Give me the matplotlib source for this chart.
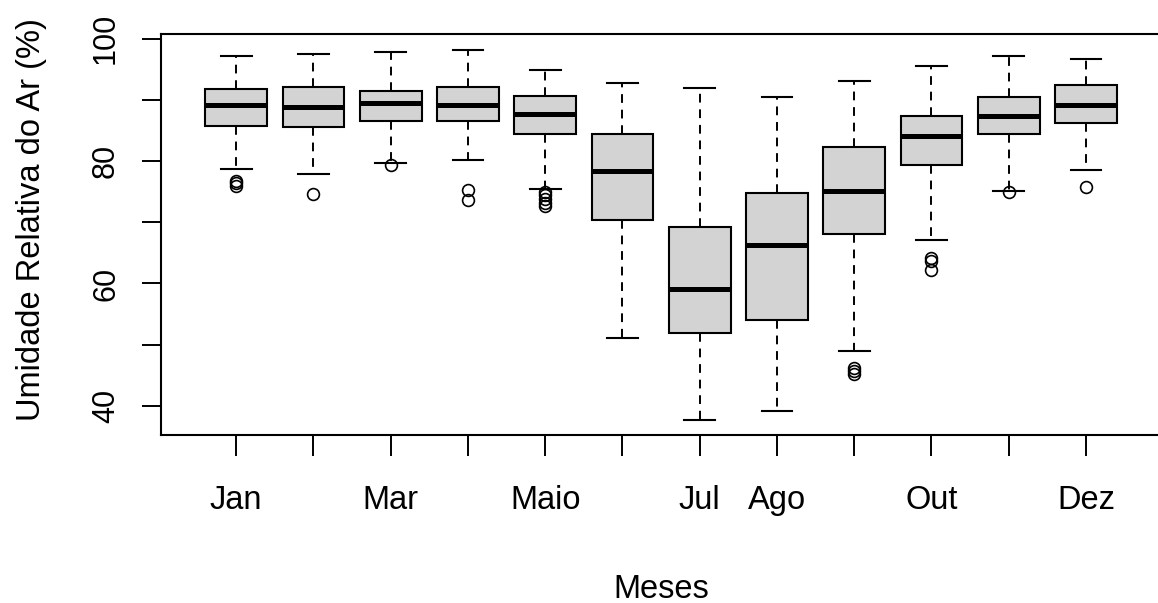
import matplotlib
matplotlib.use("Agg")
import matplotlib.pyplot as plt
from matplotlib import font_manager

months = ["Jan", "Fev", "Mar", "Abr", "Maio", "Jun", "Jul", "Ago", "Set", "Out", "Nov", "Dez"]
tick_labels = ["Jan", "", "Mar", "", "Maio", "", "Jul", "Ago", "", "Out", "", "Dez"]
whis_lo = [78.7, 77.9, 79.7, 80.1, 75.4, 51.1, 37.7, 39.2, 49.0, 67.1, 75.1, 78.6]
q1 = [85.8, 85.5, 86.5, 86.5, 84.4, 70.3, 51.9, 54.0, 68.1, 79.4, 84.4, 86.2]
median = [89.2, 88.8, 89.5, 89.2, 87.7, 78.3, 59.1, 66.3, 75.1, 84.1, 87.3, 89.1]
q3 = [91.7, 92.1, 91.4, 92.1, 90.6, 84.4, 69.3, 74.7, 82.3, 87.4, 90.5, 92.4]
whis_hi = [97.1, 97.5, 97.8, 98.2, 94.9, 92.8, 92.0, 90.5, 93.1, 95.6, 97.1, 96.7]
outliers = [
    [76.8, 76.4, 75.9],
    [74.6],
    [79.3],
    [75.2, 73.7],
    [75.0, 74.4, 73.8, 73.2, 72.6],
    [],
    [],
    [],
    [46.2, 45.7, 45.2],
    [64.2, 63.7, 62.2],
    [74.9],
    [75.7],
]
y_ticks = [40, 50, 60, 70, 80, 90, 100]
y_tick_labels = ["40", "", "60", "", "80", "", "100"]

avail = {f.name for f in font_manager.fontManager.ttflist}
base_font = "Liberation Sans" if "Liberation Sans" in avail else "DejaVu Sans"

plt.rcParams["font.family"] = [base_font, "DejaVu Sans"]

W, H = 1158, 603
fig = plt.figure(figsize=(W / 100, H / 100), dpi=100)
left_px, right_px, top_px, bottom_px = 160.5, 1161.7, 34.3, 435.0
ax = fig.add_axes([left_px / W, 1 - bottom_px / H, (right_px - left_px) / W, (bottom_px - top_px) / H])

stats = []
for i in range(len(months)):
    stats.append(dict(label=months[i], whislo=whis_lo[i], q1=q1[i], med=median[i],
                      q3=q3[i], whishi=whis_hi[i], fliers=outliers[i]))

positions = list(range(1, len(months) + 1))
ax.bxp(stats, positions=positions, widths=0.8, capwidths=0.4, patch_artist=True,
       showfliers=True,
       boxprops=dict(facecolor="#D3D3D3", edgecolor="black", linewidth=1.5),
       medianprops=dict(color="black", linewidth=3.6, solid_capstyle="butt"),
       whiskerprops=dict(color="black", linewidth=1.4, linestyle=(0, (4.5, 3.5))),
       capprops=dict(color="black", linewidth=1.5),
       flierprops=dict(marker="o", markerfacecolor="none", markeredgecolor="black",
                       markersize=8.5, markeredgewidth=1.2, linestyle="none"))

ax.set_xlim(0.02, 12.98)
ax.set_ylim(35.25, 100.7)

ax.set_xticks(positions)
ax.set_xticklabels(tick_labels, fontsize=23.5)
ax.set_yticks(y_ticks)
ax.set_yticklabels(y_tick_labels, fontsize=22, rotation=90, va="center")

ax.tick_params(axis="x", length=15, width=1.4, pad=21)
ax.tick_params(axis="y", length=13.4, width=1.4, pad=15)

for s in ax.spines.values():
    s.set_linewidth(1.5)

ax.set_xlabel("Meses", fontsize=23.5, labelpad=42)
ax.set_ylabel("Umidade Relativa do Ar (%)", fontsize=23.5)
ax.yaxis.set_label_coords(-0.1134, 0.5366)

fig.savefig("out.png", dpi=100)
